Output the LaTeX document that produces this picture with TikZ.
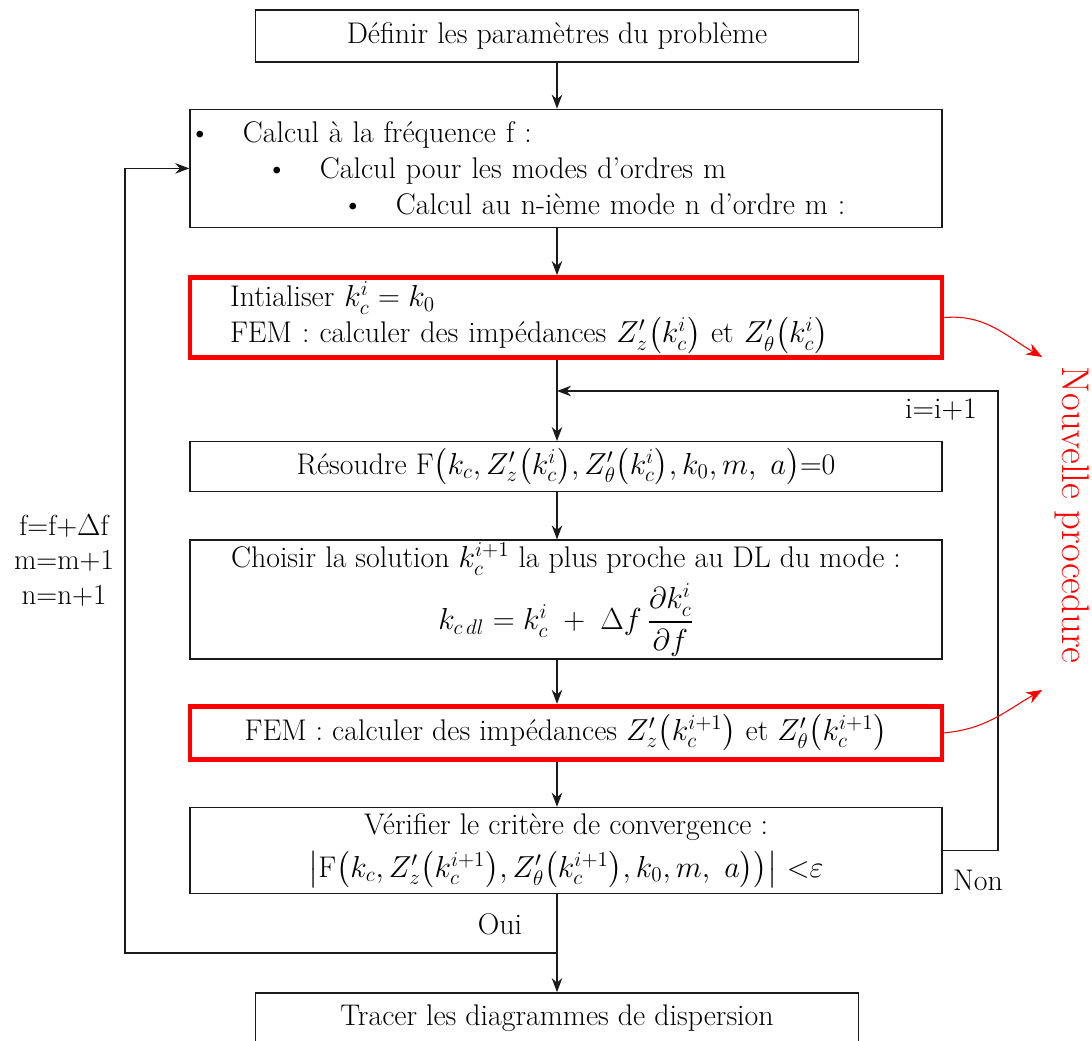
\documentclass[tikz,border=0pt]{standalone}
\usepackage{fontspec}
\usepackage{amsmath}
\usepackage{tikz}
\usetikzlibrary{arrows.meta, positioning, calc}
\definecolor{procred}{HTML}{FF0000}
\definecolor{darkline}{HTML}{1A1A1A}
\newcommand{\bulletline}[2]{\hspace*{\dimexpr#1-0.22cm\relax}\makebox[1.08cm][l]{\textbullet}#2}
\tikzset{
  stepbox/.style={
    rectangle, minimum width=15.04cm,
    text centered, draw=darkline, line width=0.8pt,
    inner sep=0pt,
  },
  newbox/.style={stepbox, draw=procred, line width=2.8pt},
  endbox/.style={stepbox, minimum width=12.06cm},
  arrow/.style={-{Stealth[length=8pt,width=6pt]}, line width=0.8pt, color=darkline},
  redarrow/.style={-{Stealth[length=9pt,width=7pt]}, line width=0.6pt, color=procred},
}

\begin{document}
\begin{tikzpicture}[node distance=1cm,every node/.style={font=\fontsize{17}{20.5}\selectfont}]
  \useasboundingbox (0,0) rectangle (21.84,-20.82);
  \node[endbox,minimum height=1.04cm] (define) at (11.14,-0.72) {Définir les paramètres du problème};
  \node[stepbox,minimum height=2.36cm,below=0.92cm of define,xshift=0.18cm,align=left,text width=14.64cm] (loop)
    {\bulletline{0cm}{Calcul à la fréquence f :}\\
     \bulletline{1.54cm}{Calcul pour les modes d'ordres m}\\
     \bulletline{3.06cm}{Calcul au n-ième mode n d'ordre m :}};
  \node[newbox,minimum height=1.6cm,below=0.94cm of loop,align=left,text width=13.44cm] (init)
    {Intialiser $k_c^i=k_0$\\
     FEM : calculer des impédances $Z'_z\bigl(k_c^i\bigr)$ et $Z'_\theta\bigl(k_c^i\bigr)$};
  \node[stepbox,minimum height=1.0cm,below=1.62cm of init] (solve)
    {Résoudre F$\bigl(k_c,Z'_z\bigl(k_c^i\bigr),Z'_\theta\bigl(k_c^i\bigr),k_0,m,\ a\bigr)$=0};
  \node[stepbox,minimum height=2.38cm,below=0.94cm of solve,align=center] (choose)
    {Choisir la solution $k_c^{i+1}$ la plus proche au DL du mode :\\[4pt]
     $k_{c\,dl}=k_c^i\;+\;\Delta f\,\dfrac{\partial k_c^i}{\partial f}$};
  \node[newbox,minimum height=1.06cm,below=0.88cm of choose] (fem)
    {FEM : calculer des impédances $Z'_z\bigl(k_c^{i+1}\bigr)$ et $Z'_\theta\bigl(k_c^{i+1}\bigr)$};
  \node[stepbox,minimum height=1.72cm,below=0.9cm of fem,align=center] (verify)
    {Vérifier le critère de convergence :\\[4pt]
     $\bigl|$F$\bigl(k_c,Z'_z\bigl(k_c^{i+1}\bigr),Z'_\theta\bigl(k_c^{i+1}\bigr),k_0,m,\ a\bigr)\bigr)\bigr|$ <$\varepsilon$};
  \node[endbox,minimum height=1.0cm,below=1.96cm of verify,xshift=-0.18cm] (trace) {Tracer les diagrammes de dispersion};
  \draw[arrow] (define.south)--(loop.north -| define);
  \draw[arrow] (loop.south -| define)--(init.north -| define);
  \draw[arrow] (init.south -| define)--(solve.north -| define);
  \draw[arrow] (solve.south -| define)--(choose.north -| define);
  \draw[arrow] (choose.south -| define)--(fem.north -| define);
  \draw[arrow] (fem.south -| define)--(verify.north -| define);
  \draw[arrow] (verify.south -| define)--(trace.north);
  % boucle sur i
  \coordinate (iter) at (19.96,-7.82);
  \draw[arrow] (verify.east)-|(iter)--(iter -| define);
  \node (inc) at (18.82,-8.2) {i=i+1};
  \node (no) at (19.56,-17.6) {Non};
  \node (yes) at (10.0,-18.48) {Oui};
  % boucle sur f, m, n
  \coordinate (back) at (2.5,-19.06);
  \draw[arrow] (back -| define)--(back)|-(loop.west);
  \node[align=center,font=\fontsize{16.5}{19.5}\selectfont] (update) at ($(choose.north -| back)+(-1.22,-0.42)$) {f=f+$\Delta$f\\m=m+1\\n=n+1};
  % nouvelle procedure
  \coordinate (tipa) at (20.84,-7.14);
  \coordinate (tipb) at (20.84,-13.8);
  \draw[redarrow] (init.east) to[out=5,in=150] (tipa);
  \draw[redarrow] (fem.east) to[out=5,in=-150] (tipb);
  \node[rotate=-90,text=procred,font=\fontsize{22}{26}\selectfont] (newproc) at (21.44,-10.3) {Nouvelle procedure};
\end{tikzpicture}
\end{document}
